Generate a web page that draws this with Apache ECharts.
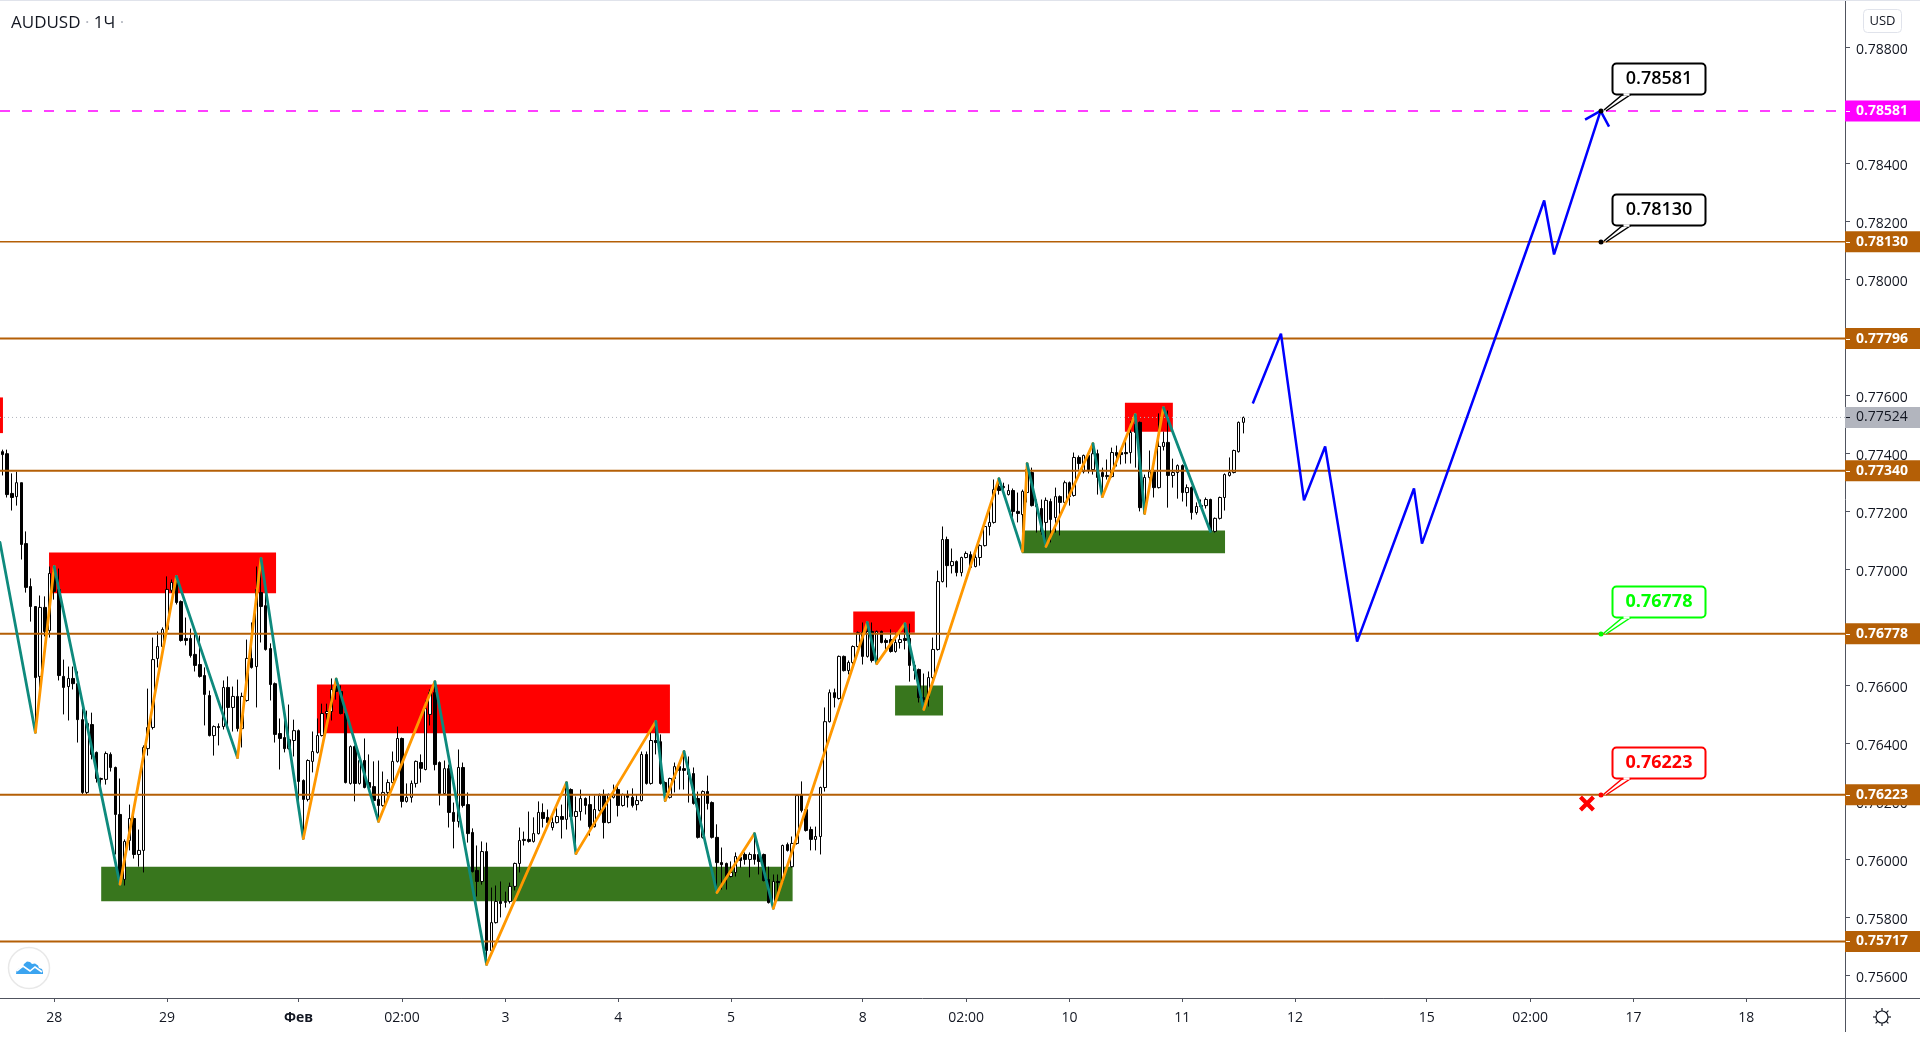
<!DOCTYPE html>
<html><head><meta charset="utf-8"><style>html,body{margin:0;padding:0;background:#fff}#c{width:1920px;height:1040px}</style>
<script src="https://cdn.jsdelivr.net/npm/echarts@6/dist/echarts.min.js"></script></head><body><div id="c"></div>
<script>
const FONT='"Open Sans"';
const symbol='AUDUSD', interval='1Ч', currency='USD';
const xTickBars=[11,35,63,85,107,131,155,183,205,227,251,275,303,325,347,371];
const xTickLabels=['28','29','Фев','02:00','3','4','5','8','02:00','10','11','12','15','02:00','17','18'];
const yTicks=[0.788,0.784,0.782,0.78,0.776,0.774,0.772,0.77,0.766,0.764,0.762,0.76,0.758,0.756];
const xMin=-0.53, xMax=392, yMin=0.755221, yMax=0.7896;
const levels=[0.7813,0.77796,0.7734,0.76778,0.76223,0.75717];
const levelWidths=[1.5,2,2,2,2,2];
const targetLevel=0.78581, lastPrice=0.77524;
// open, close, low, high per hourly bar
const candles=[
[.77406,.77396,.77324,.77413],[.77399,.77258,.77248,.77413],[.77262,.77248,.77203,.77331],[.77251,.77299,.77220,.77337],
[.77299,.77086,.77034,.77299],[.77089,.76938,.76920,.77131],[.76941,.76872,.76820,.76969],[.76872,.76627,.76437,.76872],
[.76631,.76869,.76551,.76910],[.76869,.76786,.76769,.76907],[.76789,.76986,.76765,.77010],[.76993,.76924,.76896,.77010],
[.76931,.76634,.76617,.77003],[.76631,.76593,.76500,.76689],[.76596,.76624,.76479,.76665],[.76624,.76606,.76586,.76665],
[.76606,.76482,.76403,.76648],[.76482,.76231,.76224,.76520],[.76231,.76469,.76224,.76513],[.76465,.76362,.76345,.76506],
[.76369,.76279,.76265,.76372],[.76279,.76276,.76224,.76282],[.76276,.76365,.76258,.76372],[.76362,.76317,.76303,.76369],
[.76317,.76155,.76017,.76320],[.76155,.75931,.75910,.76279],[.75931,.76062,.75910,.76069],[.76065,.76141,.76031,.76189],
[.76141,.76017,.76003,.76172],[.76017,.76031,.75975,.76103],[.76031,.76386,.75955,.76393],[.76382,.76455,.76358,.76589],
[.76455,.76689,.76448,.76765],[.76693,.76734,.76662,.76786],[.76734,.76793,.76731,.76800],[.76793,.76931,.76786,.76976],
[.76928,.76955,.76920,.76965],[.76976,.76886,.76879,.76976],[.76889,.76755,.76751,.76893],[.76762,.76755,.76738,.76834],
[.76762,.76703,.76696,.76796],[.76707,.76669,.76648,.76775],[.76672,.76631,.76627,.76772],[.76634,.76569,.76462,.76662],
[.76565,.76427,.76424,.76582],[.76427,.76458,.76358,.76462],[.76458,.76455,.76393,.76469],[.76458,.76593,.76448,.76617],
[.76593,.76524,.76455,.76631],[.76524,.76562,.76441,.76596],[.76562,.76451,.76441,.76620],[.76451,.76562,.76386,.76575],
[.76548,.76693,.76544,.76758],[.76693,.76662,.76658,.76817],[.76665,.76931,.76524,.77010],[.76920,.76872,.76748,.77010],
[.76875,.76724,.76720,.76920],[.76727,.76603,.76548,.76745],[.76606,.76431,.76403,.76610],[.76434,.76417,.76310,.76486],
[.76420,.76382,.76369,.76517],[.76382,.76413,.76379,.76534],[.76410,.76444,.76355,.76482],[.76444,.76269,.76196,.76448],
[.76272,.76207,.76072,.76276],[.76207,.76341,.76200,.76345],[.76338,.76372,.76300,.76441],[.76369,.76427,.76365,.76486],
[.76427,.76503,.76424,.76537],[.76503,.76510,.76482,.76537],[.76510,.76586,.76479,.76624],[.76596,.76579,.76551,.76624],
[.76579,.76503,.76500,.76600],[.76503,.76265,.76262,.76506],[.76262,.76389,.76258,.76393],[.76389,.76262,.76200,.76393],
[.76262,.76341,.76258,.76345],[.76341,.76248,.76245,.76417],[.76265,.76248,.76245,.76362],[.76251,.76203,.76200,.76338],
[.76207,.76186,.76131,.76341],[.76186,.76231,.76182,.76303],[.76231,.76265,.76200,.76276],[.76265,.76338,.76262,.76372],
[.76338,.76417,.76334,.76458],[.76417,.76200,.76179,.76420],[.76200,.76214,.76196,.76262],[.76214,.76262,.76196,.76272],
[.76262,.76338,.76248,.76341],[.76334,.76314,.76265,.76362],[.76310,.76520,.76307,.76548],[.76500,.76575,.76462,.76586],
[.76575,.76327,.76307,.76610],[.76334,.76227,.76186,.76338],[.76227,.76313,.76224,.76341],[.76313,.76162,.76110,.76327],
[.76162,.76131,.76038,.76196],[.76131,.76317,.76110,.76379],[.76317,.76186,.76179,.76334],[.76189,.76089,.76058,.76231],
[.76093,.75958,.75955,.76107],[.75962,.75924,.75872,.76048],[.75924,.76027,.75913,.76062],[.76027,.75686,.75638,.76058],
[.75686,.75782,.75682,.75903],[.75782,.75855,.75779,.75910],[.75855,.75848,.75800,.75924],[.75855,.75852,.75834,.75889],
[.75855,.75907,.75848,.75920],[.75907,.75986,.75893,.75989],[.75986,.76065,.75955,.76110],[.76065,.76069,.76048,.76096],
[.76069,.76062,.76058,.76165],[.76062,.76089,.76058,.76145],[.76089,.76162,.76086,.76200],[.76162,.76141,.76110,.76193],
[.76145,.76127,.76110,.76172],[.76110,.76127,.76100,.76148],[.76127,.76148,.76124,.76189],[.76148,.76138,.76072,.76189],
[.76138,.76265,.76103,.76269],[.76241,.76148,.76145,.76245],[.76148,.76165,.76024,.76217],[.76165,.76210,.76134,.76241],
[.76210,.76186,.76155,.76214],[.76189,.76113,.76082,.76220],[.76113,.76172,.76110,.76220],[.76169,.76220,.76165,.76227],
[.76220,.76127,.76072,.76241],[.76127,.76224,.76124,.76227],[.76214,.76224,.76210,.76258],[.76241,.76186,.76148,.76258],
[.76186,.76224,.76182,.76227],[.76224,.76214,.76179,.76238],[.76214,.76186,.76179,.76245],[.76189,.76203,.76169,.76224],
[.76203,.76362,.76200,.76372],[.76362,.76262,.76258,.76372],[.76262,.76410,.76258,.76441],[.76410,.76403,.76362,.76476],
[.76406,.76262,.76258,.76431],[.76265,.76231,.76200,.76269],[.76214,.76279,.76210,.76282],[.76279,.76320,.76231,.76334],
[.76320,.76307,.76241,.76338],[.76313,.76307,.76241,.76375],[.76310,.76293,.76196,.76355],[.76296,.76193,.76189,.76317],
[.76210,.76076,.76072,.76234],[.76076,.76234,.76072,.76238],[.76234,.76193,.76172,.76289],[.76196,.76076,.76072,.76200],
[.76076,.75989,.75886,.76121],[.75989,.75982,.75896,.76041],[.75986,.75941,.75896,.75989],[.75941,.75955,.75938,.75993],
[.75955,.76010,.75941,.76024],[.76007,.75996,.75972,.76017],[.76017,.76000,.75982,.76024],[.76000,.76017,.75938,.76024],
[.76017,.76000,.75982,.76086],[.76017,.75993,.75948,.76034],[.76017,.75927,.75924,.76020],[.75931,.75851,.75848,.75975],
[.75834,.75924,.75830,.75948],[.75924,.75920,.75862,.75948],[.75924,.76048,.75920,.76051],[.76051,.76031,.76027,.76058],
[.75975,.76055,.75972,.76079],[.76055,.76220,.76051,.76224],[.76224,.76169,.76162,.76269],[.76172,.76100,.76096,.76176],
[.76103,.76069,.76031,.76113],[.76069,.76079,.76031,.76113],[.76079,.76248,.76017,.76251],[.76248,.76475,.76234,.76524],
[.76475,.76575,.76472,.76586],[.76575,.76558,.76524,.76589],[.76555,.76700,.76551,.76703],[.76700,.76651,.76648,.76703],
[.76651,.76679,.76638,.76686],[.76679,.76734,.76651,.76738],[.76734,.76782,.76731,.76786],[.76782,.76700,.76672,.76817],
[.76700,.76786,.76696,.76817],[.76786,.76686,.76679,.76817],[.76679,.76786,.76672,.76789],[.76786,.76748,.76745,.76789],
[.76755,.76748,.76713,.76762],[.76758,.76717,.76713,.76793],[.76717,.76748,.76713,.76782],[.76748,.76758,.76727,.76786],
[.76762,.76755,.76724,.76813],[.76762,.76669,.76613,.76813],[.76669,.76651,.76620,.76682],[.76655,.76558,.76541,.76658],
[.76558,.76551,.76541,.76641],[.76558,.76627,.76527,.76648],[.76627,.76724,.76600,.76765],[.76724,.76958,.76720,.76996],
[.76958,.77103,.76955,.77148],[.77103,.77013,.76938,.77113],[.77013,.77027,.76986,.77072],[.77027,.76989,.76976,.77031],
[.76989,.77041,.76976,.77044],[.77041,.77055,.77038,.77062],[.77051,.77007,.77003,.77062],[.77010,.77041,.77007,.77072],
[.77041,.77082,.77013,.77086],[.77082,.77148,.77079,.77165],[.77148,.77162,.77117,.77207],[.77162,.77275,.77158,.77310],
[.77286,.77272,.77258,.77299],[.77286,.77282,.77265,.77299],[.77258,.77272,.77255,.77293],[.77272,.77200,.77179,.77279],
[.77200,.77193,.77162,.77265],[.77189,.77269,.77062,.77275],[.77265,.77344,.77231,.77368],[.77334,.77220,.77217,.77351],
[.77224,.77217,.77127,.77241],[.77210,.77131,.77120,.77241],[.77162,.77238,.77093,.77248],[.77234,.77172,.77093,.77244],
[.77179,.77251,.77127,.77282],[.77251,.77231,.77117,.77255],[.77231,.77299,.77227,.77306],[.77299,.77251,.77220,.77303],
[.77255,.77386,.77251,.77403],[.77386,.77365,.77344,.77393],[.77337,.77393,.77331,.77396],[.77393,.77344,.77331,.77396],
[.77344,.77399,.77327,.77431],[.77399,.77317,.77258,.77413],[.77334,.77320,.77251,.77351],[.77320,.77324,.77310,.77379],
[.77320,.77403,.77317,.77420],[.77403,.77393,.77355,.77427],[.77403,.77396,.77362,.77406],[.77403,.77399,.77365,.77441],
[.77403,.77472,.77365,.77510],[.77500,.77472,.77351,.77534],[.77507,.77213,.77200,.77510],[.77193,.77317,.77189,.77327],
[.77317,.77337,.77293,.77410],[.77337,.77282,.77248,.77379],[.77282,.77424,.77279,.77538],[.77424,.77438,.77410,.77475],
[.77438,.77324,.77213,.77548],[.77324,.77334,.77282,.77382],[.77334,.77358,.77244,.77362],[.77358,.77265,.77234,.77362],
[.77265,.77282,.77217,.77293],[.77282,.77196,.77172,.77286],[.77196,.77217,.77189,.77231],[.77220,.77217,.77213,.77241],
[.77220,.77241,.77210,.77248],[.77241,.77131,.77127,.77244],[.77131,.77176,.77127,.77179],[.77176,.77248,.77172,.77251],
[.77248,.77327,.77203,.77331],[.77324,.77334,.77320,.77386],[.77334,.77410,.77331,.77413],[.77406,.77507,.77403,.77510],
[.77507,.77524,.77469,.77527]];
// x0 bar, x1 bar, upper price, lower price
const supplyZones=[[-0.53,0.1,.77593,.77470],[9.9,58.2,.77058,.76918],[66.9,142,.76603,.76435],[181,194.1,.76855,.76782],[238.8,249,.77575,.77475]];
const demandZones=[[21,168.1,.75975,.75856],[189.9,200.1,.76600,.76496],[216.9,260.1,.77134,.77056]];
const zigzag=[[-0.53,.77093],[7,.76438],[11,.77010],[25,.75914],[37,.76976],[50,.76351],[55,.77038],[64,.76072],[71,.76622],[80,.76131],[92,.76613],[103,.75638],[120,.76265],[122,.76020],[139,.76476],[141,.76203],[145,.76372],[152,.75886],[160,.76089],[164,.75831],[184,.76817],[186,.76675],[192,.76813],[196,.76517],[212,.77313],[217,.77062],[218,.77365],[222,.77079],[232,.77434],[234,.77251],[241,.77534],[243,.77193],[247,.77558],[257,.77131]];
const forecast=[[266,.77572],[272,.77813],[276.9,.77238],[281.4,.77424],[288.2,.76751],[300.3,.77279],[302,.77089],[328,.78272],[330.1,.78086],[340,.78581]];
const arrowHead=[[336.7,.78551],[340,.78581],[341.8,.78527]];
const callouts=[[340,.78581,'0.78581','#000000','600'],[340,.7813,'0.78130','#000000','600'],[340,.76778,'0.76778','#00ff00','700'],[340,.76223,'0.76223','#ff0000','700']];
const stopMark=[[337.1,.76193]];

const BROWN='#b45f06', AXIS='#50535e', TXT='#131722';
function tagLabel(v,bg,col,w){return {show:true,formatter:v.toFixed(5),distance:0,backgroundColor:bg,color:col,fontWeight:w,fontSize:14,fontFamily:FONT,lineHeight:15,padding:[3,0,3,11],width:64,align:'left',verticalAlign:'middle'};}
function levelSeries(v,color,type,width,bg,labelCol,weight,z){return {type:'line',data:[[xMin,v],[xMax,v]],showSymbol:false,symbol:'none',clip:false,silent:true,z:z,lineStyle:{color:color,type:type,width:width},endLabel:tagLabel(v,bg,labelCol,weight),labelLayout:{hideOverlap:false}};}
function zoneRender(color){return function(p,api){const a=api.coord([api.value(0),api.value(2)]),b=api.coord([api.value(1),api.value(3)]);return {type:'rect',shape:{x:a[0],y:a[1],width:b[0]-a[0],height:b[1]-a[1]},style:{fill:color}};};}
const segs=zigzag.slice(1).map((q,k)=>[zigzag[k][0],zigzag[k][1],q[0],q[1]]);
const gearSpokes=[[1882,1008,1882,1011],[1882,1023,1882,1026],[1873,1017,1876,1017],[1888,1017,1891,1017],[1875.6,1010.6,1877.8,1012.8],[1886.2,1021.2,1888.4,1023.4],[1888.4,1010.6,1886.2,1012.8],[1877.8,1021.2,1875.6,1023.4]];
const tagTicks=levels.concat([targetLevel]).map(v=>[xMax,v,'#ffffff']).concat([[xMax,lastPrice,TXT]]);

const option={animation:false,backgroundColor:'#fff',
 title:{show:true,left:6,top:10,text:`{a|${symbol}}{d| · }{a|${interval}}{d| · }`,textStyle:{fontWeight:'normal',rich:{a:{fontFamily:FONT,fontSize:17,fontWeight:'normal',color:TXT},d:{fontFamily:FONT,fontSize:17,fontWeight:'normal',color:'#b2b5be'}}}},
 grid:{left:0,right:75,top:1,bottom:42,containLabel:false},
 xAxis:{type:'value',min:xMin,max:xMax,splitLine:{show:false},
  axisLine:{show:true,onZero:false,lineStyle:{color:AXIS,width:1}},
  axisTick:{show:true,length:4,customValues:xTickBars,lineStyle:{color:AXIS}},
  axisLabel:{customValues:xTickBars,margin:13,fontFamily:FONT,fontSize:14,color:TXT,hideOverlap:false,showMinLabel:true,showMaxLabel:true,
   formatter:v=>{const t=xTickLabels[xTickBars.indexOf(v)];return t==='Фев'?'{b|Фев}':(t||'');},rich:{b:{fontFamily:FONT,fontSize:14,fontWeight:'bold',color:TXT}}}},
 yAxis:{type:'value',position:'right',min:yMin,max:yMax,scale:true,splitLine:{show:false},
  axisLine:{show:true,onZero:false,lineStyle:{color:AXIS,width:1}},
  axisTick:{show:true,length:5,customValues:yTicks,lineStyle:{color:AXIS}},
  axisLabel:{customValues:yTicks,margin:11,fontFamily:FONT,fontSize:14,color:TXT,verticalAlign:'top',lineHeight:6,formatter:v=>v.toFixed(5)}},
 graphic:[
  {type:'rect',shape:{x:0,y:0,width:1920,height:1},style:{fill:'#e0e3eb'},z:20},
  {type:'line',shape:{x1:1845.5,y1:998,x2:1845.5,y2:1032},style:{stroke:AXIS,lineWidth:1},z:20},
  {type:'line',shape:{x1:1845,y1:998.5,x2:1920,y2:998.5},style:{stroke:AXIS,lineWidth:1},z:20},
  {type:'rect',shape:{x:1863.5,y:9.5,width:38,height:23,r:4},style:{fill:'#fff',stroke:'#e0e3eb',lineWidth:1},z:20},
  {type:'text',x:1882.5,y:21,style:{text:currency,fontFamily:FONT,fontSize:13,fill:TXT,textAlign:'center',textVerticalAlign:'middle'},z:21},
  {type:'circle',shape:{cx:29,cy:968,r:20.5},style:{fill:'#fff',stroke:'#e8e8e8',lineWidth:1.5},z:20},
  {type:'polygon',shape:{points:[[16,974],[16.5,971],[19,968.5],[22,968],[24,964],[27,961.5],[30,962],[32,964],[35,963.5],[38,965.5],[39,968],[42,969],[43,972],[43,974]]},style:{fill:'#3ba4f0'},z:21},
  {type:'polyline',shape:{points:[[17,971],[23,966],[30,971],[35,967],[42,972]]},style:{stroke:'#fff',lineWidth:1.6,fill:null},z:22},
  {type:'circle',shape:{cx:1882,cy:1017,r:6},style:{fill:null,stroke:TXT,lineWidth:1.2},z:20}
 ].concat(gearSpokes.map(s=>({type:'line',shape:{x1:s[0],y1:s[1],x2:s[2],y2:s[3]},style:{stroke:TXT,lineWidth:1.2},z:20}))),
 series:[
  {type:'custom',name:'supply',coordinateSystem:'cartesian2d',z:1,silent:true,data:supplyZones,renderItem:zoneRender('#ff0000'),encode:{x:[0,1],y:[2,3]}},
  {type:'custom',name:'demand',coordinateSystem:'cartesian2d',z:1,silent:true,data:demandZones,renderItem:zoneRender('#38761d'),encode:{x:[0,1],y:[2,3]}},
  {type:'candlestick',name:symbol,z:2,silent:true,barWidth:3,data:candles.map((c,i)=>[i,c[0],c[1],c[2],c[3]]),encode:{x:0,y:[1,2,3,4]},
   itemStyle:{color:'#ffffff',color0:'#000000',borderColor:'#000000',borderColor0:'#000000',borderWidth:1}},
  levelSeries(lastPrice,'#b2b5be',[1,3],1,'#b2b5be',TXT,'normal',3)
 ].concat(levels.map((v,k)=>levelSeries(v,BROWN,'solid',levelWidths[k],BROWN,'#ffffff','bold',4)))
 .concat([levelSeries(targetLevel,'#ff00ff',[10,12],1.5,'#ff00ff','#ffffff','bold',4)])
 .concat([
  {type:'custom',name:'zigzag',coordinateSystem:'cartesian2d',z:5,silent:true,data:segs,encode:{x:[0,2],y:[1,3]},
   renderItem:(p,api)=>{const a=api.coord([api.value(0),api.value(1)]),b=api.coord([api.value(2),api.value(3)]);
    return {type:'line',shape:{x1:a[0],y1:a[1],x2:b[0],y2:b[1]},style:{stroke:api.value(3)>api.value(1)?'#ff9800':'#0e8a7d',lineWidth:2.8,lineCap:'round'}};}},
  {type:'line',name:'forecast',z:6,silent:true,data:forecast,showSymbol:false,symbol:'none',lineStyle:{color:'#0000ff',width:2.5},clip:false},
  {type:'line',name:'arrow',z:6,silent:true,data:arrowHead,showSymbol:false,symbol:'none',lineStyle:{color:'#0000ff',width:2.5},clip:false},
  {type:'scatter',name:'stop',z:7,silent:true,data:stopMark,symbol:'path://M3 0 L8 5 L13 0 L16 3 L11 8 L16 13 L13 16 L8 11 L3 16 L0 13 L5 8 L0 3 Z',symbolSize:16,itemStyle:{color:'#ff0000',opacity:1}},
  {type:'custom',name:'callouts',coordinateSystem:'cartesian2d',z:8,silent:true,data:callouts.map(c=>[c[0],c[1]]),encode:{x:0,y:1},
   renderItem:(p,api)=>{const a=api.coord([api.value(0),api.value(1)]),k=callouts[p.dataIndex],col=k[3],x=Math.round(a[0]),y=Math.round(a[1]);
    return {type:'group',children:[
     {type:'polyline',shape:{points:[[x+3,y-1],[x+21,y-16],[x+29,y-16],[x+5,y]]},style:{fill:'#fff',stroke:col,lineWidth:1.5}},
     {type:'rect',shape:{x:x+11.5,y:y-47.5,width:93,height:31,r:4},style:{fill:'#fff',stroke:col,lineWidth:2}},
     {type:'line',shape:{x1:x+22.5,y1:y-16.5,x2:x+28.5,y2:y-16.5},style:{stroke:'#fff',lineWidth:2.5}},
     {type:'circle',shape:{cx:x,cy:y,r:2.5},style:{fill:col}},
     {type:'text',x:x+58,y:y-32,style:{text:k[2],fontFamily:FONT,fontSize:18,fontWeight:k[4],fill:col,textAlign:'center',textVerticalAlign:'middle'}}
    ]};}},
  {type:'custom',name:'tagTicks',coordinateSystem:'cartesian2d',z:30,silent:true,clip:false,data:tagTicks.map(t=>[t[0],t[1]]),encode:{x:0,y:1},
   renderItem:(p,api)=>{const a=api.coord([api.value(0),api.value(1)]),y=Math.round(a[1])+0.5;
    return {type:'line',z2:100,shape:{x1:a[0]+1,y1:y,x2:a[0]+5,y2:y},style:{stroke:tagTicks[p.dataIndex][2],lineWidth:1}};}}
 ])
};
const chart=echarts.init(document.getElementById('c'),null,{renderer:'canvas',width:1920,height:1040});
chart.setOption(option);
</script></body></html>
